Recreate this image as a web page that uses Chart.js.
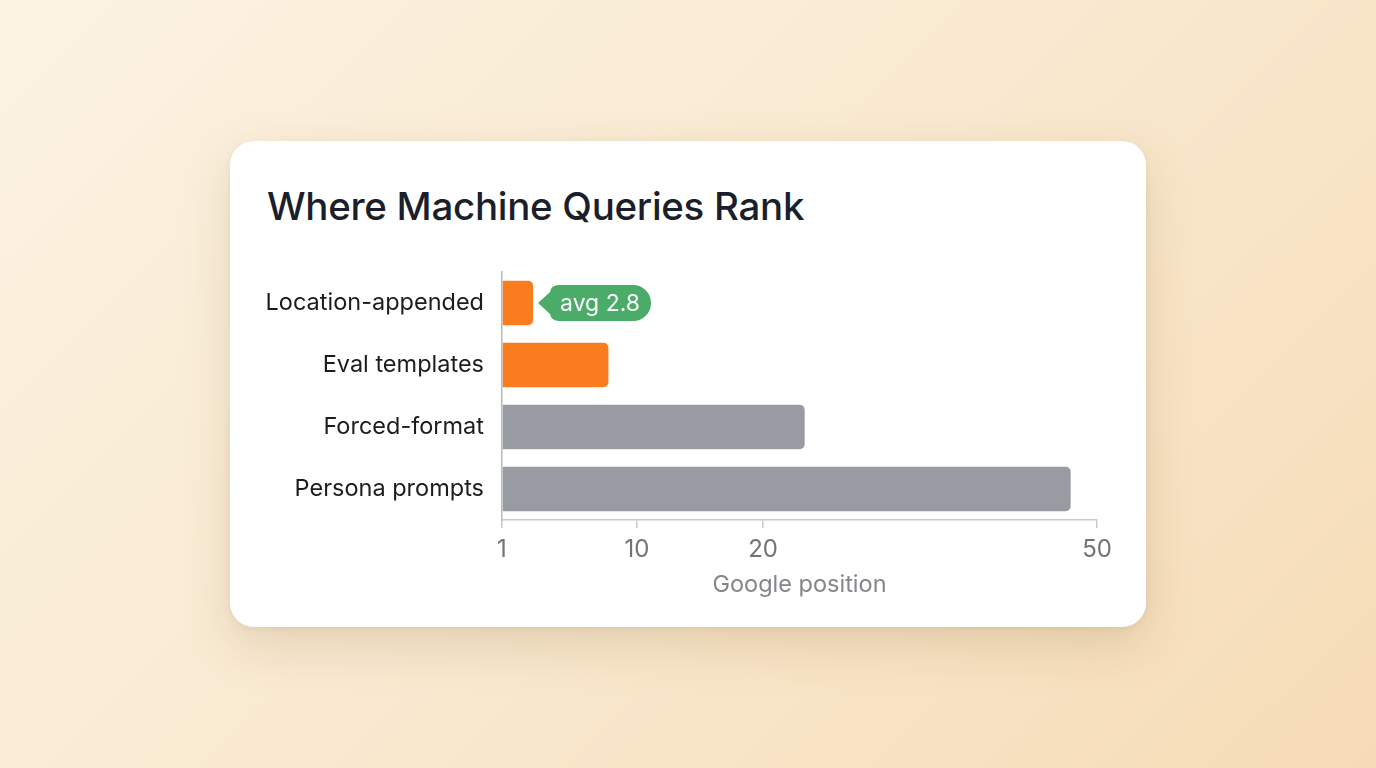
<!DOCTYPE html>
<html>
<head>
<meta charset="utf-8">
<script src="https://cdn.jsdelivr.net/npm/chart.js@4.4.1/dist/chart.umd.min.js"></script>
<style>
  html, body { margin: 0; padding: 0; }
  body {
    width: 1376px; height: 768px; overflow: hidden; position: relative;
    background: linear-gradient(135deg, #fcf3e2 0%, #f9e9d0 50%, #f6dcb6 100%);
    font-family: Inter, "Noto Sans", sans-serif;
  }
  .card {
    position: absolute; left: 230px; top: 141px; width: 916px; height: 486px;
    background: #fff; border-radius: 24px;
    box-shadow: 0 18px 50px rgba(130, 95, 40, 0.18), 0 2px 6px rgba(130, 95, 40, 0.08);
  }
  h1 {
    position: absolute; left: 267px; top: 183px; margin: 0;
    font: 500 38.5px Inter, sans-serif; color: #1b1f2b; letter-spacing: -0.3px;
  }
  #chart { position: absolute; left: 250px; top: 255px; }
</style>
</head>
<body>
<div class="card"></div>
<h1>Where Machine Queries Rank</h1>
<canvas id="chart" width="880" height="355"></canvas>
<script>
// data
var categories = ['Location-appended', 'Eval templates', 'Forced-format', 'Persona prompts'];
var positions = [2.8, 7.9, 23.5, 47.5];
var barColors = ['#fb7c1f', '#fb7c1f', '#999ba2', '#999ba2'];
var tickValues = [1, 10, 20, 50];
var calloutText = 'avg 2.8';

// the axis is squeezed toward the deep end, a power scale fits it
var EXPONENT = 0.85;
class PowerScale extends Chart.LinearScale {
    static id = 'power';
    static defaults = Chart.LinearScale.defaults;
    getPixelForValue(value) {
        if (value === null || isNaN(value)) return NaN;
        var f = function(v) { return Math.pow(Math.max(v, 0), EXPONENT); };
        var dec = (f(value) - f(this.min)) / (f(this.max) - f(this.min));
        return this.getPixelForDecimal(dec);
    }
    getValueForPixel(pixel) {
        var f = function(v) { return Math.pow(Math.max(v, 0), EXPONENT); };
        var dec = this.getDecimalForPixel(pixel);
        return Math.pow(f(this.min) + dec * (f(this.max) - f(this.min)), 1 / EXPONENT);
    }
}
Chart.register(PowerScale);

var calloutPlugin = {
    id: 'callout',
    afterDatasetsDraw: function(chart) {
        var bar = chart.getDatasetMeta(0).data[0];
        var ctx = chart.ctx;
        ctx.save();
        ctx.font = '23px Inter, sans-serif';
        var tw = ctx.measureText(calloutText).width;
        var tip = bar.x + 5;
        var left = tip + 9;
        var h = 36, r = 18;
        var w = tw + 24;
        var top = bar.y - h / 2;
        ctx.fillStyle = '#4bab68';
        ctx.beginPath();
        ctx.moveTo(tip, bar.y);
        ctx.lineTo(left + 3, top + 7);
        ctx.quadraticCurveTo(left + 4, top, left + 12, top);
        ctx.lineTo(left + w - r, top);
        ctx.arc(left + w - r, bar.y, r, -Math.PI / 2, Math.PI / 2);
        ctx.lineTo(left + 12, top + h);
        ctx.quadraticCurveTo(left + 4, top + h, left + 3, top + h - 7);
        ctx.closePath();
        ctx.fill();
        ctx.fillStyle = '#ffffff';
        ctx.textAlign = 'center';
        ctx.textBaseline = 'middle';
        ctx.fillText(calloutText, left + w / 2 + 1, bar.y + 1);
        ctx.restore();
    }
};

var ctx = document.getElementById('chart').getContext('2d');
var myChart = new Chart(ctx, {
    type: 'bar',
    data: {
        labels: categories,
        datasets: [{
            data: positions,
            base: 1,
            backgroundColor: barColors,
            borderRadius: 5,
            borderSkipped: 'start',
            categoryPercentage: 1,
            barPercentage: 0.715
        }]
    },
    options: {
        indexAxis: 'y',
        responsive: false,
        animation: false,
        layout: { padding: { top: 17, right: 33, left: 0, bottom: 0 } },
        plugins: {
            legend: { display: false },
            tooltip: { enabled: false }
        },
        scales: {
            x: {
                type: 'power',
                min: 1,
                max: 50,
                afterBuildTicks: function(scale) {
                    scale.ticks = tickValues.map(function(v) { return { value: v }; });
                },
                afterFit: function(scale) { scale.height = 90; },
                grid: { drawOnChartArea: false, drawTicks: true, tickLength: 8, color: '#c9c9cc', lineWidth: 1.5 },
                border: { display: true, color: '#c9c9cc', width: 1.5 },
                ticks: {
                    padding: 7,
                    color: '#737377',
                    font: { family: 'Inter', size: 24 },
                    maxRotation: 0,
                    autoSkip: false
                },
                title: {
                    display: true,
                    text: 'Google position',
                    color: '#85858a',
                    font: { family: 'Inter', size: 23.5 },
                    padding: { top: 0, bottom: 11 }
                }
            },
            y: {
                afterFit: function(scale) {
                    scale.width = 252;
                    scale.paddingTop = 0;
                    scale.paddingBottom = 0;
                },
                grid: { display: false, drawTicks: false },
                border: { display: true, color: '#b9b9bd', width: 1.5 },
                ticks: {
                    padding: 18,
                    color: '#1c1c20',
                    font: { family: 'Inter', size: 23.5 }
                }
            }
        }
    },
    plugins: [calloutPlugin]
});
</script>
</body>
</html>
